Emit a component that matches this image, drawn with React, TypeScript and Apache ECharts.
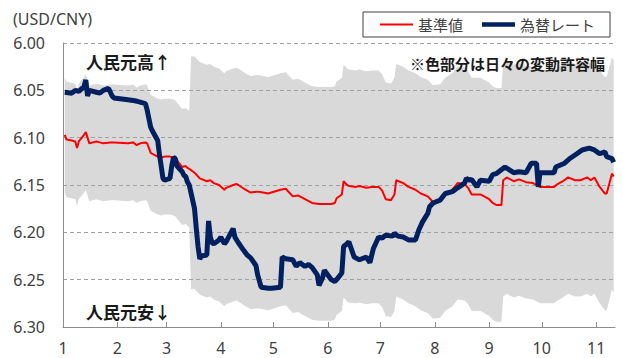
import React, { useEffect, useRef } from 'react';
import * as echarts from 'echarts';

// 為替レート (USD/CNY spot)
const rateDates = [
  '2014-01-02', '2014-01-06', '2014-01-08', '2014-01-10', '2014-01-13', '2014-01-14', '2014-01-15', '2014-01-16',
  '2014-01-20', '2014-01-22', '2014-01-24', '2014-01-27', '2014-01-29', '2014-01-30', '2014-02-07', '2014-02-11',
  '2014-02-13', '2014-02-17', '2014-02-18', '2014-02-19', '2014-02-20', '2014-02-21', '2014-02-24', '2014-02-25',
  '2014-02-26', '2014-02-27', '2014-02-28', '2014-03-03', '2014-03-04', '2014-03-05', '2014-03-06', '2014-03-07',
  '2014-03-10', '2014-03-11', '2014-03-12', '2014-03-13', '2014-03-14', '2014-03-17', '2014-03-18', '2014-03-19',
  '2014-03-20', '2014-03-21', '2014-03-24', '2014-03-25', '2014-03-26', '2014-03-27', '2014-03-28', '2014-03-31',
  '2014-04-01', '2014-04-03', '2014-04-04', '2014-04-08', '2014-04-09', '2014-04-11', '2014-04-14', '2014-04-16',
  '2014-04-18', '2014-04-21', '2014-04-22', '2014-04-24', '2014-04-28', '2014-04-30', '2014-05-05', '2014-05-06',
  '2014-05-08', '2014-05-12', '2014-05-14', '2014-05-16', '2014-05-19', '2014-05-21', '2014-05-23', '2014-05-26',
  '2014-05-27', '2014-05-29', '2014-05-30', '2014-06-03', '2014-06-05', '2014-06-06', '2014-06-09', '2014-06-10',
  '2014-06-12', '2014-06-13', '2014-06-16', '2014-06-18', '2014-06-19', '2014-06-23', '2014-06-25', '2014-06-27',
  '2014-06-30', '2014-07-02', '2014-07-04', '2014-07-08', '2014-07-09', '2014-07-11', '2014-07-14', '2014-07-17',
  '2014-07-21', '2014-07-23', '2014-07-25', '2014-07-28', '2014-07-29', '2014-07-31', '2014-08-04', '2014-08-07',
  '2014-08-11', '2014-08-14', '2014-08-18', '2014-08-19', '2014-08-21', '2014-08-22', '2014-08-25', '2014-08-27',
  '2014-09-01', '2014-09-03', '2014-09-05', '2014-09-10', '2014-09-15', '2014-09-18', '2014-09-22', '2014-09-25',
  '2014-09-28', '2014-09-29', '2014-09-30', '2014-10-08', '2014-10-09', '2014-10-14', '2014-10-17', '2014-10-21',
  '2014-10-24', '2014-10-28', '2014-10-31', '2014-11-03', '2014-11-06', '2014-11-07', '2014-11-10', '2014-11-11',
];
const rateValues = [
  6.052, 6.053, 6.050, 6.051, 6.046, 6.039, 6.056, 6.050,
  6.052, 6.053, 6.050, 6.048, 6.056, 6.058, 6.060, 6.061,
  6.062, 6.064, 6.071, 6.080, 6.089, 6.093, 6.103, 6.118,
  6.130, 6.143, 6.145, 6.143, 6.130, 6.121, 6.122, 6.130,
  6.136, 6.140, 6.141, 6.147, 6.150, 6.175, 6.196, 6.215,
  6.228, 6.225, 6.224, 6.188, 6.205, 6.211, 6.212, 6.208,
  6.205, 6.212, 6.210, 6.196, 6.205, 6.211, 6.219, 6.224,
  6.227, 6.235, 6.245, 6.258, 6.259, 6.259, 6.258, 6.226,
  6.228, 6.229, 6.236, 6.232, 6.236, 6.234, 6.237, 6.245,
  6.256, 6.248, 6.240, 6.250, 6.252, 6.250, 6.243, 6.215,
  6.212, 6.210, 6.226, 6.228, 6.229, 6.226, 6.232, 6.217,
  6.205, 6.206, 6.203, 6.204, 6.201, 6.204, 6.205, 6.208,
  6.208, 6.197, 6.189, 6.180, 6.173, 6.169, 6.166, 6.159,
  6.157, 6.153, 6.148, 6.143, 6.145, 6.144, 6.152, 6.145,
  6.146, 6.139, 6.138, 6.131, 6.137, 6.136, 6.137, 6.127,
  6.127, 6.152, 6.137, 6.137, 6.131, 6.127, 6.122, 6.117,
  6.113, 6.111, 6.113, 6.117, 6.115, 6.120, 6.122, 6.126,
];

// 基準値 (central parity)
const parityDates = [
  '2014-01-02', '2014-01-03', '2014-01-06', '2014-01-08', '2014-01-09', '2014-01-10', '2014-01-13', '2014-01-14',
  '2014-01-15', '2014-01-16', '2014-01-20', '2014-01-22', '2014-01-24', '2014-01-28', '2014-01-30', '2014-02-07',
  '2014-02-10', '2014-02-12', '2014-02-14', '2014-02-17', '2014-02-18', '2014-02-20', '2014-02-21', '2014-02-24',
  '2014-02-26', '2014-02-28', '2014-03-03', '2014-03-05', '2014-03-06', '2014-03-10', '2014-03-12', '2014-03-13',
  '2014-03-14', '2014-03-17', '2014-03-19', '2014-03-20', '2014-03-24', '2014-03-26', '2014-03-28', '2014-03-31',
  '2014-04-03', '2014-04-04', '2014-04-08', '2014-04-10', '2014-04-11', '2014-04-15', '2014-04-18', '2014-04-22',
  '2014-04-25', '2014-04-28', '2014-05-05', '2014-05-08', '2014-05-12', '2014-05-15', '2014-05-20', '2014-05-23',
  '2014-05-27', '2014-05-30', '2014-06-03', '2014-06-05', '2014-06-06', '2014-06-09', '2014-06-10', '2014-06-12',
  '2014-06-13', '2014-06-17', '2014-06-19', '2014-06-23', '2014-06-26', '2014-06-30', '2014-07-02', '2014-07-04',
  '2014-07-07', '2014-07-09', '2014-07-10', '2014-07-14', '2014-07-17', '2014-07-21', '2014-07-24', '2014-07-28',
  '2014-07-31', '2014-08-04', '2014-08-07', '2014-08-11', '2014-08-14', '2014-08-18', '2014-08-20', '2014-08-22',
  '2014-08-27', '2014-09-01', '2014-09-03', '2014-09-05', '2014-09-08', '2014-09-09', '2014-09-11', '2014-09-15',
  '2014-09-18', '2014-09-22', '2014-09-26', '2014-09-30', '2014-10-08', '2014-10-10', '2014-10-13', '2014-10-16',
  '2014-10-20', '2014-10-23', '2014-10-27', '2014-10-29', '2014-10-31', '2014-11-03', '2014-11-06', '2014-11-07',
  '2014-11-10', '2014-11-11',
];
const parityValues = [
  6.097, 6.102, 6.103, 6.104, 6.111, 6.104, 6.097, 6.094,
  6.100, 6.106, 6.104, 6.105, 6.106, 6.105, 6.105, 6.106,
  6.105, 6.108, 6.106, 6.105, 6.106, 6.116, 6.117, 6.120,
  6.121, 6.120, 6.120, 6.121, 6.122, 6.131, 6.130, 6.132,
  6.133, 6.137, 6.141, 6.143, 6.146, 6.145, 6.148, 6.150,
  6.155, 6.153, 6.150, 6.149, 6.150, 6.155, 6.158, 6.157,
  6.158, 6.159, 6.155, 6.154, 6.162, 6.161, 6.166, 6.169,
  6.170, 6.170, 6.170, 6.169, 6.164, 6.160, 6.146, 6.150,
  6.151, 6.152, 6.151, 6.153, 6.152, 6.152, 6.156, 6.165,
  6.166, 6.160, 6.145, 6.148, 6.152, 6.155, 6.159, 6.162,
  6.168, 6.167, 6.160, 6.155, 6.148, 6.149, 6.153, 6.160,
  6.160, 6.165, 6.169, 6.171, 6.171, 6.145, 6.142, 6.146,
  6.144, 6.147, 6.148, 6.152, 6.152, 6.149, 6.146, 6.142,
  6.145, 6.145, 6.142, 6.145, 6.142, 6.152, 6.159, 6.159,
  6.138, 6.141,
];

// Daily allowed band (変動許容幅) around the central parity: ±1%, widened to ±2% from this date
const bandWidenDate = '2014-03-15';
const bandNarrow = 0.01;
const bandWide = 0.02;

const yTickValues = [6.0, 6.05, 6.1, 6.15, 6.2, 6.25, 6.3];

const LATIN = "'Noto Sans', 'Liberation Sans', sans-serif";
const CJK = "'Noto Sans CJK JP', 'Noto Sans', sans-serif";

export default function App() {
  const ref = useRef<HTMLDivElement>(null);

  useEffect(() => {
    document.body.style.margin = '0';
    if (!ref.current) return;
    const chart = echarts.init(ref.current, null, { renderer: 'svg' });

    const bandDates: string[] = [];
    const bandTop: number[] = [];
    const bandSpan: number[] = [];
    parityDates.forEach((d, i) => {
      const p = parityValues[i];
      const wide = d >= bandWidenDate;
      if (wide && i > 0 && parityDates[i - 1] < bandWidenDate) {
        bandDates.push(bandWidenDate);
        bandTop.push(p * (1 - bandWide));
        bandSpan.push(p * 2 * bandWide);
      }
      const w = wide ? bandWide : bandNarrow;
      bandDates.push(d);
      bandTop.push(p * (1 - w));
      bandSpan.push(p * 2 * w);
    });

    const option: any = {
      animation: false,
      grid: { left: 63, right: 8, top: 43, bottom: 31, containLabel: false, outerBoundsMode: 'none' },
      legend: {
        data: [
          { name: '基準値', icon: 'path://M0,0 L66,0 L66,4 L0,4 Z' },
          { name: '為替レート', icon: 'path://M0,0 L66,0 L66,9 L0,9 Z' },
        ],
        left: 363,
        top: 12,
        orient: 'horizontal',
        itemWidth: 33,
        itemHeight: 12,
        itemGap: 19,
        padding: [5, 15, 5, 17],
        borderColor: '#404040',
        borderWidth: 1,
        backgroundColor: '#ffffff',
        selectedMode: false,
        textStyle: { fontSize: 15, color: '#404040', fontFamily: CJK },
      },
      xAxis: {
        type: 'time',
        min: new Date(2014, 0, 1).getTime(),
        max: new Date(2014, 10, 11, 18).getTime(),
        minInterval: 28 * 86400000,
        maxInterval: 31 * 86400000,
        z: 3,
        axisLine: { show: true, onZero: false, lineStyle: { color: '#8c8c8c', width: 1 } },
        axisTick: { show: true, inside: true, length: 5, lineStyle: { color: '#8c8c8c' } },
        minorTick: { show: false },
        axisLabel: {
          formatter: (v: number) => String(new Date(v).getMonth() + 1),
          fontSize: 16,
          color: '#404040',
          fontFamily: LATIN,
          margin: 13,
          showMaxLabel: false,
        },
        splitLine: { show: false },
        minorSplitLine: { show: false },
        splitArea: { show: false },
      },
      yAxis: {
        type: 'value',
        inverse: true,
        min: yTickValues[0],
        max: yTickValues[yTickValues.length - 1],
        interval: 0.05,
        z: 3,
        axisLine: { show: true, lineStyle: { color: '#8c8c8c', width: 1 } },
        axisTick: { show: false },
        axisLabel: {
          formatter: (v: number) => v.toFixed(2),
          fontSize: 16,
          color: '#404040',
          fontFamily: LATIN,
          margin: 18,
        },
        splitLine: { show: true, lineStyle: { type: [4, 3], color: '#a0a0a0', width: 1 } },
      },
      graphic: [
        { type: 'text', left: 13, top: 11, z: 10, style: { text: '(USD/CNY)', fontSize: 16, fill: '#404040', fontFamily: LATIN } },
        { type: 'text', left: 86, top: 53, z: 10, style: { text: '人民元高↑', fontSize: 17, fontWeight: 'bold', fill: '#1a1a1a', fontFamily: CJK } },
        { type: 'text', left: 86, top: 303, z: 10, style: { text: '人民元安↓', fontSize: 17, fontWeight: 'bold', fill: '#1a1a1a', fontFamily: CJK } },
        { type: 'text', right: 18, top: 56, z: 10, style: { text: '※色部分は日々の変動許容幅', fontSize: 15, fontWeight: 'bold', fill: '#1a1a1a', fontFamily: CJK } },
      ],
      series: [
        {
          name: 'bandBase',
          type: 'line',
          stack: 'band',
          data: bandDates.map((d, i) => [d, bandTop[i]]),
          symbol: 'none',
          silent: true,
          lineStyle: { width: 0, opacity: 0 },
          z: 1,
        },
        {
          name: 'bandSpan',
          type: 'line',
          stack: 'band',
          data: bandDates.map((d, i) => [d, bandSpan[i]]),
          symbol: 'none',
          silent: true,
          lineStyle: { width: 0, opacity: 0 },
          areaStyle: { color: '#d9d9d9', opacity: 1 },
          z: 1,
        },
        {
          name: '基準値',
          type: 'line',
          data: parityDates.map((d, i) => [d, parityValues[i]]),
          symbol: 'none',
          lineStyle: { color: '#ff0000', width: 2 },
          itemStyle: { color: '#ff0000' },
          z: 4,
        },
        {
          name: '為替レート',
          type: 'line',
          data: rateDates.map((d, i) => [d, rateValues[i]]),
          symbol: 'none',
          lineStyle: { color: '#002060', width: 5 },
          itemStyle: { color: '#002060' },
          z: 5,
        },
      ],
    };

    chart.setOption(option);
    return () => chart.dispose();
  }, []);

  return <div ref={ref} style={{ position: 'absolute', left: 0, top: 0, width: 623, height: 358 }} />;
}
